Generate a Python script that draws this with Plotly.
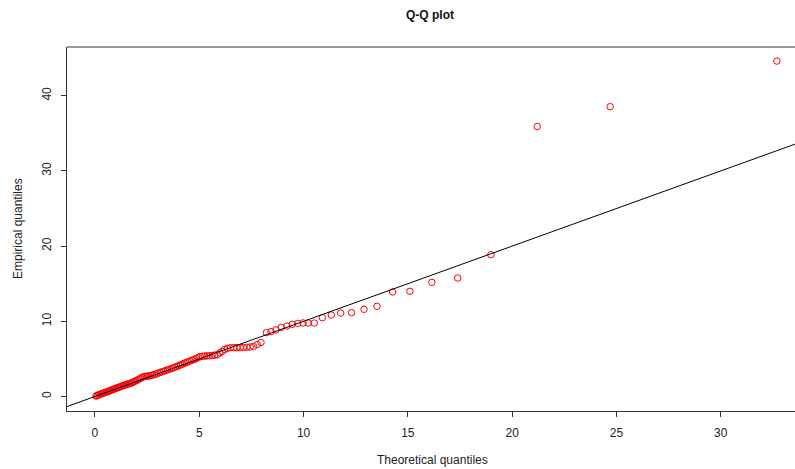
import plotly.graph_objects as go

# Theoretical quantiles (x) and empirical quantiles (y)
theoretical = [
    0.05, 0.10, 0.16, 0.22, 0.28, 0.34, 0.40, 0.46, 0.52, 0.58, 0.64, 0.70, 0.76, 0.82,
    0.88, 0.94, 1.00, 1.06, 1.12, 1.18, 1.24, 1.30, 1.36, 1.42, 1.48, 1.54, 1.60, 1.66,
    1.72, 1.78, 1.84, 1.90, 1.97,
    2.04, 2.12, 2.20, 2.28, 2.36, 2.44, 2.52, 2.60, 2.68, 2.76, 2.85, 2.94, 3.03, 3.12,
    3.21, 3.30, 3.39, 3.48, 3.57, 3.66, 3.75, 3.84, 3.93, 4.02,
    4.10, 4.19, 4.28, 4.37, 4.46, 4.55, 4.65, 4.75, 4.85, 4.95, 5.05, 5.16, 5.27, 5.38,
    5.50, 5.62, 5.74, 5.86, 5.98, 6.10, 6.22, 6.35, 6.50, 6.65, 6.80, 6.96, 7.12, 7.28,
    7.44, 7.60, 7.78, 7.96,
    8.22, 8.44, 8.68, 8.93, 9.20, 9.46, 9.72, 9.98, 10.22, 10.51, 10.90, 11.33, 11.78,
    12.30, 12.90, 13.52, 14.27, 15.10, 16.15, 17.39, 18.98, 21.20, 24.70, 32.69,
]
empirical = [
    0.06, 0.12, 0.20, 0.27, 0.33, 0.40, 0.45, 0.50, 0.58, 0.62, 0.70, 0.74, 0.80, 0.90,
    0.95, 1.00, 1.08, 1.15, 1.20, 1.26, 1.33, 1.40, 1.45, 1.50, 1.56, 1.62, 1.68, 1.72,
    1.78, 1.85, 1.92, 2.00, 2.10,
    2.20, 2.32, 2.45, 2.58, 2.65, 2.68, 2.70, 2.75, 2.80, 2.85, 2.92, 3.00, 3.10, 3.20,
    3.28, 3.36, 3.45, 3.55, 3.62, 3.72, 3.80, 3.90, 4.00, 4.10,
    4.20, 4.30, 4.42, 4.50, 4.60, 4.72, 4.82, 4.92, 5.05, 5.20, 5.30, 5.35, 5.38, 5.40,
    5.42, 5.45, 5.50, 5.55, 5.80, 6.00, 6.25, 6.40, 6.50, 6.50, 6.50, 6.50, 6.52, 6.55,
    6.58, 6.65, 6.92, 7.18,
    8.50, 8.62, 8.86, 9.20, 9.37, 9.60, 9.72, 9.78, 9.77, 9.77, 10.48, 10.84, 11.10,
    11.15, 11.60, 11.99, 13.90, 13.99, 15.18, 15.76, 18.86, 35.90, 38.54, 44.61,
]

x_ticks = [0, 5, 10, 15, 20, 25, 30]
y_ticks = [0, 10, 20, 30, 40]
line_intercept = 0.0
line_slope = 1.0

x_range = [-1.34, 33.56]
y_range = [-1.93, 46.48]

font_family = "Liberation Sans, Arial, sans-serif"
axis_color = "#333333"

fig = go.Figure()
fig.add_trace(go.Scatter(
    x=theoretical, y=empirical, mode="markers",
    marker=dict(symbol="circle-open", size=6.5, color="red", line=dict(width=1, color="red")),
    showlegend=False, hoverinfo="x+y",
))
fig.add_trace(go.Scatter(
    x=[x_range[0] - 1, x_range[1] + 1],
    y=[line_intercept + line_slope * (x_range[0] - 1), line_intercept + line_slope * (x_range[1] + 1)],
    mode="lines", line=dict(color="black", width=1), showlegend=False, hoverinfo="skip",
))

fig.update_layout(
    width=795, height=469,
    margin=dict(l=67, r=0, t=47, b=58),
    paper_bgcolor="white", plot_bgcolor="white",
    font=dict(family=font_family, size=12, color="#222222"),
    showlegend=False,
    xaxis=dict(
        range=x_range, tickvals=x_ticks, ticktext=[str(v) for v in x_ticks],
        showgrid=False, zeroline=False, showline=True, linecolor=axis_color, linewidth=1,
        ticks="outside", ticklen=5, tickcolor=axis_color, tickwidth=1,
        tickfont=dict(size=12, color="#222222"), ticklabelstandoff=6,
    ),
    yaxis=dict(
        range=y_range, tickvals=y_ticks, ticktext=[str(v) for v in y_ticks],
        showgrid=False, zeroline=False, showline=True, linecolor=axis_color, linewidth=1,
        ticks="outside", ticklen=5, tickcolor=axis_color, tickwidth=1,
        tickangle=-90, tickfont=dict(size=12, color="#222222"), ticklabelstandoff=5,
    ),
    shapes=[dict(type="line", xref="paper", yref="paper", x0=0, x1=1, y0=1, y1=1,
                 line=dict(color=axis_color, width=1))],
    annotations=[
        dict(text="<b>Q-Q plot</b>", xref="paper", yref="paper", x=(430 - 67) / 728, y=1,
             yshift=32, showarrow=False, xanchor="center", yanchor="middle",
             font=dict(size=12, color="#111111")),
        dict(text="Theoretical quantiles", xref="paper", yref="paper", x=(432 - 67) / 728, y=0,
             yshift=-49, showarrow=False, xanchor="center", yanchor="middle",
             font=dict(size=12, color="#222222")),
        dict(text="Empirical quantiles", xref="paper", yref="paper", x=0, y=0.5,
             xshift=-49, showarrow=False, xanchor="center", yanchor="middle", textangle=-90,
             font=dict(size=12, color="#222222")),
    ],
)

fig.write_html(
    "out.html",
    config={"displayModeBar": False},
    post_script="document.body.style.margin='0';document.body.style.overflow='hidden';",
)
